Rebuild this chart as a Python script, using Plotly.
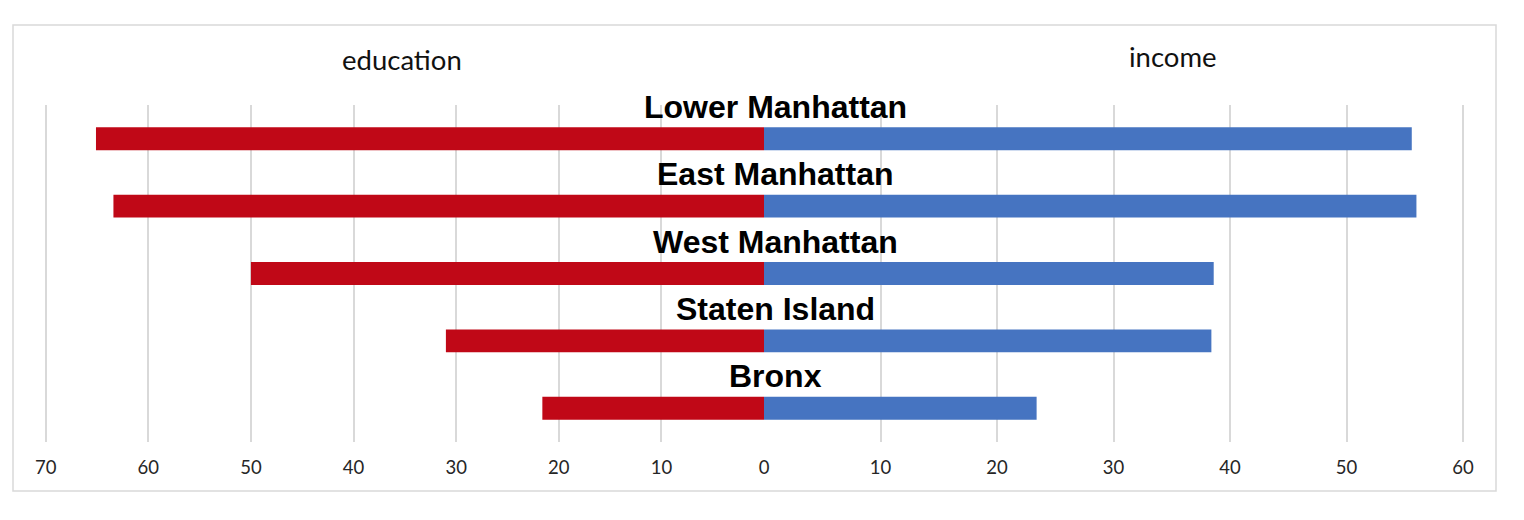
import plotly.graph_objects as go

regions = ["Lower Manhattan", "East Manhattan", "West Manhattan", "Staten Island", "Bronx"]
education = [65.1, 63.4, 50.0, 31.0, 21.6]
income = [55.6, 56.0, 38.6, 38.4, 23.4]
tick_vals_left = [70, 60, 50, 40, 30, 20, 10]
tick_vals_right = [0, 10, 20, 30, 40, 50, 60]

W, H = 1524, 520
ml, mr, mt, mb = 30, 40, 105, 78
split = (764 - ml) / (W - ml - mr)

fig = go.Figure()
fig.add_trace(go.Bar(y=regions, x=education, orientation="h", xaxis="x", yaxis="y",
                     marker=dict(color="#C00817", line=dict(width=0)), width=0.34,
                     name="education", showlegend=False))
fig.add_trace(go.Bar(y=regions, x=income, orientation="h", xaxis="x2", yaxis="y",
                     marker=dict(color="#4674C1", line=dict(width=0)), width=0.34,
                     name="income", showlegend=False))

tickfont = dict(family="Lato, Open Sans, sans-serif", size=18.5, color="#262626")
fig.update_layout(
    width=W, height=H,
    margin=dict(l=ml, r=mr, t=mt, b=mb),
    paper_bgcolor="white", plot_bgcolor="white",
    xaxis=dict(domain=[0, split], range=[71.53, 0], tickvals=tick_vals_left,
               showgrid=True, gridcolor="#D9D9D9", gridwidth=1.5, zeroline=False,
               showline=False, tickfont=tickfont, ticks="", ticklabelstandoff=12),
    xaxis2=dict(domain=[split, 1], range=[0, 61.8], tickvals=tick_vals_right,
                showgrid=True, gridcolor="#D9D9D9", gridwidth=1.5, zeroline=False,
                showline=False, tickfont=tickfont, ticks="", ticklabelstandoff=12,
                anchor="y"),
    yaxis=dict(range=[4.5, -0.5], showticklabels=False, showgrid=False,
               zeroline=False, showline=False, ticks=""),
)

for i, r in enumerate(regions):
    fig.add_annotation(x=0.95, y=r, xref="x2", yref="y", text="<b>%s</b>" % r,
                       showarrow=False, yshift=32,
                       font=dict(family="Liberation Sans, Arial, sans-serif", size=32, color="black"))

pw = W - ml - mr
ph = 442 - 105
titlefont = dict(family="Lato, Open Sans, sans-serif", size=27.5, color="#111111")
fig.add_annotation(x=(402 - ml) / pw, y=1 + (105 - 60) / ph,
                   xref="paper", yref="paper", text="education", showarrow=False,
                   font=titlefont, xanchor="center", yanchor="middle")
fig.add_annotation(x=(1173 - ml) / pw, y=1 + (105 - 57) / ph,
                   xref="paper", yref="paper", text="income", showarrow=False,
                   font=titlefont, xanchor="center", yanchor="middle")

# outer frame
fig.add_shape(type="rect", xref="paper", yref="paper",
              x0=(13 - ml) / pw, x1=(1496 - ml) / pw,
              y0=-(491 - 442) / ph, y1=1 + (105 - 25) / ph,
              line=dict(color="#D9D9D9", width=1.5), layer="below")

fig.write_html("out.html")
